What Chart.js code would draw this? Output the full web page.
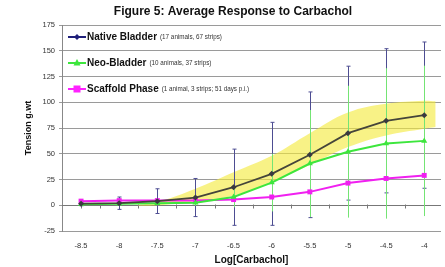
<!DOCTYPE html>
<html lang="en">
<head>
<meta charset="UTF-8">
<title>Figure 5: Average Response to Carbachol</title>
<script src="https://cdn.jsdelivr.net/npm/chart.js"></script>
<style>
  body { margin: 0; background: #fff; }
</style>
</head>
<body>
<canvas id="myChart" width="445" height="267"></canvas>

<script>
// log concentrations on the x axis
const categories = [-8.5, -8, -7.5, -7, -6.5, -6, -5.5, -5, -4.5, -4];
const tickLabels = ['-8.5', '-8', '-7.5', '-7', '-6.5', '-6', '-5.5', '-5', '-4.5', '-4'];
const yTicks = [-25, 0, 25, 50, 75, 100, 125, 150, 175];

// mean tension and error (+/-)
const nativeMean = [1.5, 2, 4, 7.5, 17.5, 30.5, 49, 70, 82, 87.5];
const nativeErr = [2, 6, 12, 18.5, 37, 50, 61, 65, 70, 71];
const neoMean = [1, 1.5, 2, 2.5, 8, 22, 40.5, 52, 60, 62.5];
const neoErr = [1, 1.5, 2, 3, 10, 28, 52, 64, 73, 73];
const scaffoldMean = [4, 4.5, 4.5, 4.5, 5.5, 8, 13, 21.5, 26, 29];
const scaffoldErr = [1.5, 1.5, 1.5, 1.5, 2, 2, 2, 2, 2, 2];

// yellow band around the native curve
const bandX = [-7.75, -7.5, -7, -6.5, -6, -5.5, -5, -4.5, -4, -3.85];
const bandUpper = [0.5, 3, 16, 32, 48, 70, 90, 98.5, 101.5, 101];
const bandLower = [-0.5, 0, 4, 9.5, 22.5, 39, 56.5, 67.8, 74.3, 76];

const seriesNotes = ['(17 animals, 67 strips)', '(10 animals, 37 strips)', '(1 animal, 3 strips; 51 days p.i.)'];

function pts(xs, ys) {
    return xs.map((x, i) => ({ x: x, y: ys[i] }));
}

const FONT = "'Liberation Sans', Arial, sans-serif";

// error bars, drawn right after the band
const errorBars = {
    id: 'errorBars',
    afterDatasetDraw(chart, args) {
        if (chart.data.datasets[args.index].id !== 'bandLower') return;
        const ctx = chart.ctx;
        const xs = chart.scales.x, ys = chart.scales.y;
        const sets = [
            { mean: nativeMean, err: nativeErr, color: '#4d4d92', cap: 2 },
            { mean: neoMean, err: neoErr, color: '#74e474', cap: 0 },
            { mean: scaffoldMean, err: scaffoldErr, color: '#e070e0', cap: 0 }
        ];
        ctx.save();
        ctx.lineWidth = 1;
        sets.forEach(s => {
            ctx.strokeStyle = s.color;
            categories.forEach((c, i) => {
                const px = Math.round(xs.getPixelForValue(c)) + 0.5;
                const top = ys.getPixelForValue(s.mean[i] + s.err[i]);
                const bot = ys.getPixelForValue(s.mean[i] - s.err[i]);
                ctx.beginPath();
                ctx.moveTo(px, top);
                ctx.lineTo(px, bot);
                if (s.cap) {
                    ctx.moveTo(px - s.cap, top); ctx.lineTo(px + s.cap, top);
                    ctx.moveTo(px - s.cap, bot); ctx.lineTo(px + s.cap, bot);
                }
                ctx.stroke();
            });
        });
        ctx.restore();
    }
};

// minor ticks on the zero line
const zeroTicks = {
    id: 'zeroTicks',
    beforeDatasetsDraw(chart) {
        const ctx = chart.ctx;
        const xs = chart.scales.x, ys = chart.scales.y;
        const y0 = Math.round(ys.getPixelForValue(0)) + 0.5;
        ctx.save();
        ctx.strokeStyle = '#777';
        ctx.lineWidth = 1;
        ctx.beginPath();
        ctx.moveTo(chart.chartArea.left, y0);
        ctx.lineTo(chart.chartArea.right, y0);
        for (let v = -8.75; v <= -3.75; v += 0.25) {
            const px = Math.round(xs.getPixelForValue(v)) + 0.5;
            if (px < chart.chartArea.left + 1 || px > chart.chartArea.right) continue;
            ctx.moveTo(px, y0 - 1);
            ctx.lineTo(px, y0 + 3);
        }
        ctx.stroke();
        ctx.restore();
    }
};

// title and in-plot legend
const decorations = {
    id: 'decorations',
    afterDraw(chart) {
        const ctx = chart.ctx;
        const area = chart.chartArea;
        ctx.save();
        ctx.fillStyle = '#111';
        ctx.font = 'bold 12px ' + FONT;
        ctx.textAlign = 'center';
        ctx.textBaseline = 'middle';
        ctx.fillText('Figure 5: Average Response to Carbachol', 233, 12);

        const rows = [
            { ds: chart.data.datasets[2], line: '#1f1f7a', style: 'diamond', note: seriesNotes[0] },
            { ds: chart.data.datasets[3], line: '#3de63d', style: 'triangle', note: seriesNotes[1] },
            { ds: chart.data.datasets[4], line: '#ff22ff', style: 'rect', note: seriesNotes[2] }
        ];
        rows.forEach((r, i) => {
            const y = area.top + 12 + i * 26;
            const x0 = area.left + 6;
            ctx.strokeStyle = r.line;
            ctx.fillStyle = r.line;
            ctx.lineWidth = 2;
            ctx.beginPath();
            ctx.moveTo(x0, y);
            ctx.lineTo(x0 + 18, y);
            ctx.stroke();
            const mx = x0 + 9;
            ctx.beginPath();
            if (r.style === 'diamond') {
                ctx.moveTo(mx, y - 3); ctx.lineTo(mx + 3, y); ctx.lineTo(mx, y + 3); ctx.lineTo(mx - 3, y);
            } else if (r.style === 'triangle') {
                ctx.moveTo(mx, y - 4); ctx.lineTo(mx + 3.5, y + 2.5); ctx.lineTo(mx - 3.5, y + 2.5);
            } else {
                ctx.rect(mx - 3.5, y - 3.5, 7, 7);
            }
            ctx.closePath();
            ctx.fill();

            ctx.fillStyle = '#111';
            ctx.textAlign = 'left';
            ctx.font = 'bold 10px ' + FONT;
            ctx.fillText(r.ds.label, x0 + 19, y);
            const w = ctx.measureText(r.ds.label).width;
            ctx.font = '6.3px ' + FONT;
            ctx.fillStyle = '#333';
            ctx.fillText(r.note, x0 + 19 + w + 3, y + 0.5);
        });
        ctx.restore();
    }
};

const ctx = document.getElementById('myChart').getContext('2d');
new Chart(ctx, {
    type: 'line',
    data: {
        datasets: [
            {
                id: 'bandUpper',
                label: 'band upper',
                data: pts(bandX, bandUpper),
                borderWidth: 0,
                pointRadius: 0,
                tension: 0.4,
                fill: false,
                order: 11
            },
            {
                id: 'bandLower',
                label: 'band lower',
                data: pts(bandX, bandLower),
                borderWidth: 0,
                pointRadius: 0,
                tension: 0.4,
                fill: '-1',
                backgroundColor: 'rgba(244, 234, 60, 0.62)',
                order: 10
            },
            {
                label: 'Native Bladder',
                data: pts(categories, nativeMean),
                borderColor: '#45453a',
                backgroundColor: '#3a3a40',
                borderWidth: 1.8,
                pointStyle: 'rectRot',
                pointRadius: 3,
                pointBorderWidth: 0,
                tension: 0,
                order: 1
            },
            {
                label: 'Neo-Bladder',
                data: pts(categories, neoMean),
                borderColor: '#3de63d',
                backgroundColor: '#3de63d',
                borderWidth: 2,
                pointStyle: 'triangle',
                pointRadius: 3.5,
                pointBorderWidth: 0,
                tension: 0,
                order: 2
            },
            {
                label: 'Scaffold Phase',
                data: pts(categories, scaffoldMean),
                borderColor: '#f020f0',
                backgroundColor: '#f020f0',
                borderWidth: 2,
                pointStyle: 'rect',
                pointRadius: 3.5,
                pointBorderWidth: 0,
                tension: 0,
                order: 3
            }
        ]
    },
    options: {
        responsive: false,
        animation: false,
        layout: { padding: { top: 25, right: 0, bottom: 0, left: 0 } },
        plugins: {
            legend: { display: false },
            title: { display: false },
            tooltip: { enabled: false }
        },
        scales: {
            x: {
                type: 'linear',
                min: -8.75,
                max: -3.78,
                grid: { display: false, drawTicks: false, tickLength: 0 },
                border: { display: false },
                afterBuildTicks(scale) {
                    scale.ticks = categories.map(v => ({ value: v }));
                },
                afterFit(scale) { scale.height = 36; },
                ticks: {
                    padding: 10,
                    autoSkip: false,
                    maxRotation: 0,
                    color: '#333',
                    font: { family: FONT, size: 7.5 },
                    callback: (value) => tickLabels[categories.indexOf(value)]
                },
                title: {
                    display: true,
                    text: 'Log[Carbachol]',
                    color: '#111',
                    font: { family: FONT, size: 10, weight: 'bold' },
                    padding: { top: 1, bottom: 1 }
                }
            },
            y: {
                min: -25,
                max: 175,
                afterBuildTicks(scale) {
                    scale.ticks = yTicks.map(v => ({ value: v }));
                },
                afterFit(scale) { scale.width = 62; },
                grid: {
                    color: '#9a9a9a',
                    lineWidth: 1,
                    drawTicks: true,
                    tickLength: 3
                },
                border: { display: true, color: '#888' },
                ticks: {
                    padding: 4,
                    color: '#333',
                    font: { family: FONT, size: 7.5 }
                },
                title: {
                    display: true,
                    text: 'Tension g.wt',
                    color: '#111',
                    font: { family: FONT, size: 9, weight: 'bold' },
                    padding: { top: 23, bottom: 0 }
                }
            }
        }
    },
    plugins: [errorBars, zeroTicks, decorations]
});
</script>
</body>
</html>
